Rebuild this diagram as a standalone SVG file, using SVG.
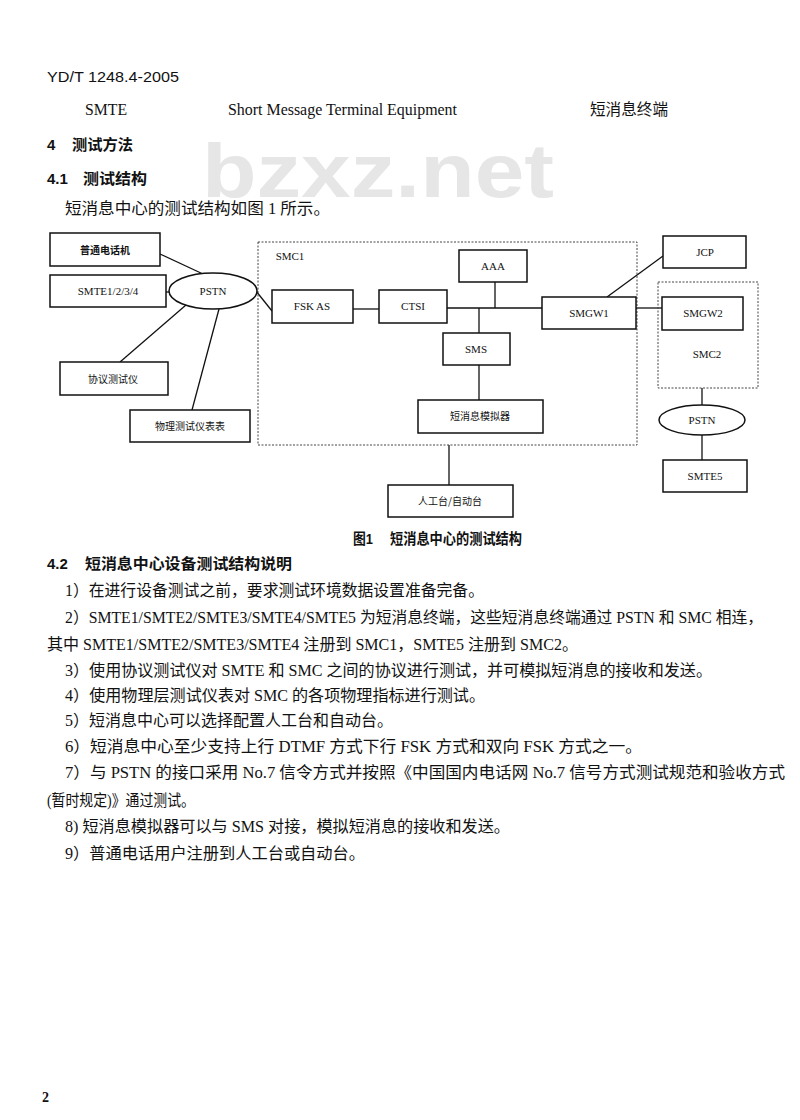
<svg xmlns="http://www.w3.org/2000/svg" width="800" height="1120" viewBox="0 0 800 1120">
<style>
.bg{fill:#fff}
.box{fill:#fff;stroke:#111;stroke-width:1.5}
.dash{fill:none;stroke:#444;stroke-width:1;stroke-dasharray:2 1.5}
.ln{stroke:#111;stroke-width:1.3;fill:none}
.t{font-family:"Liberation Serif","Noto Sans CJK SC",serif;font-size:11px;text-anchor:middle;fill:#111}
.tc{font-family:"Noto Sans CJK SC",sans-serif;font-size:10px;text-anchor:middle;fill:#111}
.body{font-family:"Liberation Serif","Noto Sans CJK SC",serif;font-size:16px;fill:#111}
.hd{font-family:"Liberation Sans","Noto Sans CJK SC",sans-serif;font-weight:bold;font-size:15px;fill:#111}
.wm{font-family:"Liberation Sans",Arial,sans-serif;font-weight:bold;font-size:76px;fill:#e6e6e6}
</style>
<rect class="bg" x="0" y="0" width="800" height="1120"/>
<text class="wm" x="202" y="197" textLength="352" lengthAdjust="spacingAndGlyphs">bzxz.net</text>

<g id="header">
<text x="47" y="82" font-family="Liberation Sans,sans-serif" font-size="15" fill="#111" textLength="132" lengthAdjust="spacingAndGlyphs">YD/T 1248.4-2005</text>
<text class="body" x="85" y="115" font-size="15" textLength="42" lengthAdjust="spacingAndGlyphs">SMTE</text>
<text class="body" x="228" y="115" font-size="15" textLength="229" lengthAdjust="spacingAndGlyphs">Short Message Terminal Equipment</text>
<text class="body" x="590" y="115" font-size="15" textLength="78" lengthAdjust="spacingAndGlyphs">短消息终端</text>
<text class="hd" x="47" y="150">4</text>
<text class="hd" x="72" y="150" textLength="61" lengthAdjust="spacingAndGlyphs">测试方法</text>
<text class="hd" x="47" y="184">4.1</text>
<text class="hd" x="83" y="184" textLength="64" lengthAdjust="spacingAndGlyphs">测试结构</text>
<text class="body" x="65" y="214" textLength="265" lengthAdjust="spacingAndGlyphs">短消息中心的测试结构如图 1 所示。</text>
</g>

<g id="connectors">
<line class="ln" x1="160" y1="254" x2="203" y2="274"/>
<line class="ln" x1="166" y1="292" x2="170" y2="292"/>
<line class="ln" x1="120" y1="362" x2="186" y2="305"/>
<line class="ln" x1="192" y1="410" x2="219" y2="309"/>
<line class="ln" x1="256" y1="291" x2="272" y2="311"/>
<line class="ln" x1="353" y1="309" x2="379" y2="309"/>
<line class="ln" x1="447" y1="308" x2="542" y2="308"/>
<line class="ln" x1="495" y1="282" x2="495" y2="308"/>
<line class="ln" x1="479" y1="308" x2="479" y2="333"/>
<line class="ln" x1="479" y1="365" x2="479" y2="400"/>
<line class="ln" x1="607" y1="297" x2="663" y2="256"/>
<line class="ln" x1="636" y1="308" x2="662" y2="308"/>
<line class="ln" x1="702" y1="388" x2="702" y2="406"/>
<line class="ln" x1="702" y1="435" x2="702" y2="460"/>
<line class="ln" x1="449" y1="445" x2="449" y2="485"/>
</g>

<g id="smc1">
<rect class="dash" x="258" y="242" width="379" height="203"/>
<text class="t" x="290" y="260">SMC1</text>
</g>
<g id="smc2">
<rect class="dash" x="658" y="282" width="100" height="106"/>
<text class="t" x="707" y="358">SMC2</text>
</g>

<g id="phone"><rect class="box" x="50" y="233" width="110" height="33"/><text class="tc" x="105" y="254" font-weight="bold">普通电话机</text></g>
<g id="smte1234"><rect class="box" x="50" y="275" width="116" height="32"/><text class="t" x="108" y="295" font-size="10.5">SMTE1/2/3/4</text></g>
<g id="pstn1"><ellipse class="box" cx="213" cy="291" rx="44" ry="18"/><text class="t" x="213" y="295" font-size="10.5">PSTN</text></g>
<g id="protocol"><rect class="box" x="60" y="362" width="108" height="33"/><text class="tc" x="113" y="383">协议测试仪</text></g>
<g id="physical"><rect class="box" x="130" y="410" width="120" height="32"/><text class="tc" x="190" y="430">物理测试仪表表</text></g>
<g id="fskas"><rect class="box" x="272" y="290" width="81" height="33"/><text class="t" x="312" y="310">FSK AS</text></g>
<g id="ctsi"><rect class="box" x="379" y="290" width="68" height="33"/><text class="t" x="413" y="310">CTSI</text></g>
<g id="aaa"><rect class="box" x="459" y="250" width="68" height="32"/><text class="t" x="493" y="270">AAA</text></g>
<g id="sms"><rect class="box" x="443" y="333" width="67" height="32"/><text class="t" x="476" y="353">SMS</text></g>
<g id="simulator"><rect class="box" x="418" y="400" width="125" height="33"/><text class="tc" x="480" y="420">短消息模拟器</text></g>
<g id="smgw1"><rect class="box" x="542" y="297" width="94" height="32"/><text class="t" x="589" y="317">SMGW1</text></g>
<g id="jcp"><rect class="box" x="663" y="236" width="83" height="32"/><text class="t" x="705" y="256">JCP</text></g>
<g id="smgw2"><rect class="box" x="662" y="297" width="81" height="33"/><text class="t" x="703" y="317">SMGW2</text></g>
<g id="pstn2"><ellipse class="box" cx="702" cy="420" rx="43" ry="15"/><text class="t" x="702" y="424" font-size="10.5">PSTN</text></g>
<g id="smte5"><rect class="box" x="663" y="460" width="84" height="32"/><text class="t" x="705" y="480" font-size="10.5">SMTE5</text></g>
<g id="console"><rect class="box" x="388" y="485" width="125" height="32"/><text class="tc" x="450" y="505">人工台/自动台</text></g>

<g id="caption">
<text class="hd" x="353" y="544" font-size="12" textLength="20" lengthAdjust="spacingAndGlyphs">图1</text>
<text class="hd" x="390" y="544" font-size="12" textLength="132" lengthAdjust="spacingAndGlyphs">短消息中心的测试结构</text>
</g>

<g id="body">
<text class="hd" x="47" y="569">4.2</text>
<text class="hd" x="85" y="569" textLength="207" lengthAdjust="spacingAndGlyphs">短消息中心设备测试结构说明</text>
<text class="body" x="65" y="596" textLength="419" lengthAdjust="spacingAndGlyphs">1）在进行设备测试之前，要求测试环境数据设置准备完备。</text>
<text class="body" x="65" y="623" textLength="698" lengthAdjust="spacingAndGlyphs">2）SMTE1/SMTE2/SMTE3/SMTE4/SMTE5 为短消息终端，这些短消息终端通过 PSTN 和 SMC 相连，</text>
<text class="body" x="47" y="650" textLength="531" lengthAdjust="spacingAndGlyphs">其中 SMTE1/SMTE2/SMTE3/SMTE4 注册到 SMC1，SMTE5 注册到 SMC2。</text>
<text class="body" x="65" y="676" textLength="647" lengthAdjust="spacingAndGlyphs">3）使用协议测试仪对 SMTE 和 SMC 之间的协议进行测试，并可模拟短消息的接收和发送。</text>
<text class="body" x="65" y="701" textLength="420" lengthAdjust="spacingAndGlyphs">4）使用物理层测试仪表对 SMC 的各项物理指标进行测试。</text>
<text class="body" x="65" y="726" textLength="328" lengthAdjust="spacingAndGlyphs">5）短消息中心可以选择配置人工台和自动台。</text>
<text class="body" x="65" y="752" textLength="577" lengthAdjust="spacingAndGlyphs">6）短消息中心至少支持上行 DTMF 方式下行 FSK 方式和双向 FSK 方式之一。</text>
<text class="body" x="65" y="778" textLength="720" lengthAdjust="spacingAndGlyphs">7）与 PSTN 的接口采用 No.7 信令方式并按照《中国国内电话网 No.7 信号方式测试规范和验收方式</text>
<text class="body" x="47" y="806" textLength="148" lengthAdjust="spacingAndGlyphs">(暂时规定)》通过测试。</text>
<text class="body" x="65" y="832" textLength="445" lengthAdjust="spacingAndGlyphs">8) 短消息模拟器可以与 SMS 对接，模拟短消息的接收和发送。</text>
<text class="body" x="65" y="859" textLength="300" lengthAdjust="spacingAndGlyphs">9）普通电话用户注册到人工台或自动台。</text>
</g>

<text x="42" y="1102" font-family="Liberation Serif,serif" font-weight="bold" font-size="14" fill="#111">2</text>
</svg>
